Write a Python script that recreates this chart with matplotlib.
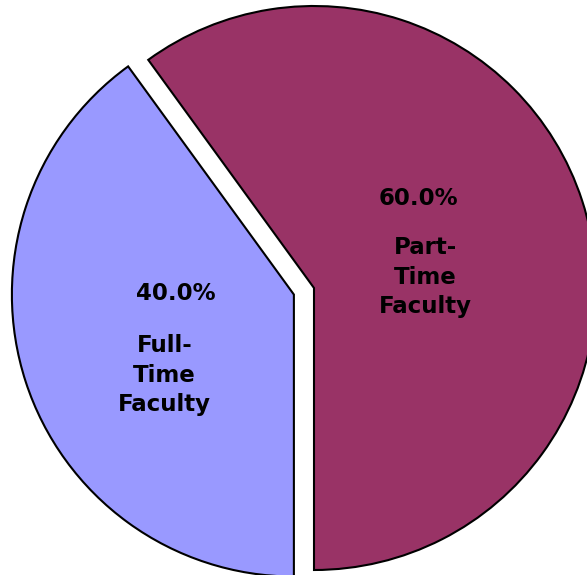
import matplotlib
matplotlib.use("Agg")
import matplotlib.pyplot as plt

# faculty split
categories = ["Full-Time Faculty", "Part-Time Faculty"]
shares = [40.0, 60.0]
colors = ["#9999FF", "#993366"]
explode = [0.075, 0.0]

# label anchor points (data units, pie radius = 1)
pct_pos = [(-0.491, -0.021), (0.372, 0.319)]
name_pos = [(-0.531, -0.309), (0.395, 0.039)]

fig = plt.figure(figsize=(5.87, 5.75), dpi=100)
ax = fig.add_axes([0, 0, 1, 1])

wedges, _ = ax.pie(shares, colors=colors, explode=explode, startangle=126,
                   counterclock=True, radius=1.0,
                   wedgeprops=dict(edgecolor="black", linewidth=1.5))

font = dict(family="DejaVu Sans", weight="bold", size=16.5, color="black")
for name, val, (px, py), (nx, ny) in zip(categories, shares, pct_pos, name_pos):
    ax.text(px, py, f"{val:.1f}%", ha="center", va="center", **font)
    words = name.replace("-", "-\n").replace(" Faculty", "\nFaculty")
    ax.text(nx, ny, words, ha="center", va="center", linespacing=1.36,
            multialignment="center", **font)

# window onto the pie: 1 unit = 282 px, centre at (314, 288) px
ax.set_aspect("auto")
ax.set_xlim(-314 / 282, 273 / 282)
ax.set_ylim(-287 / 282, 288 / 282)
ax.axis("off")

fig.savefig("out.png", dpi=100, facecolor="white")
